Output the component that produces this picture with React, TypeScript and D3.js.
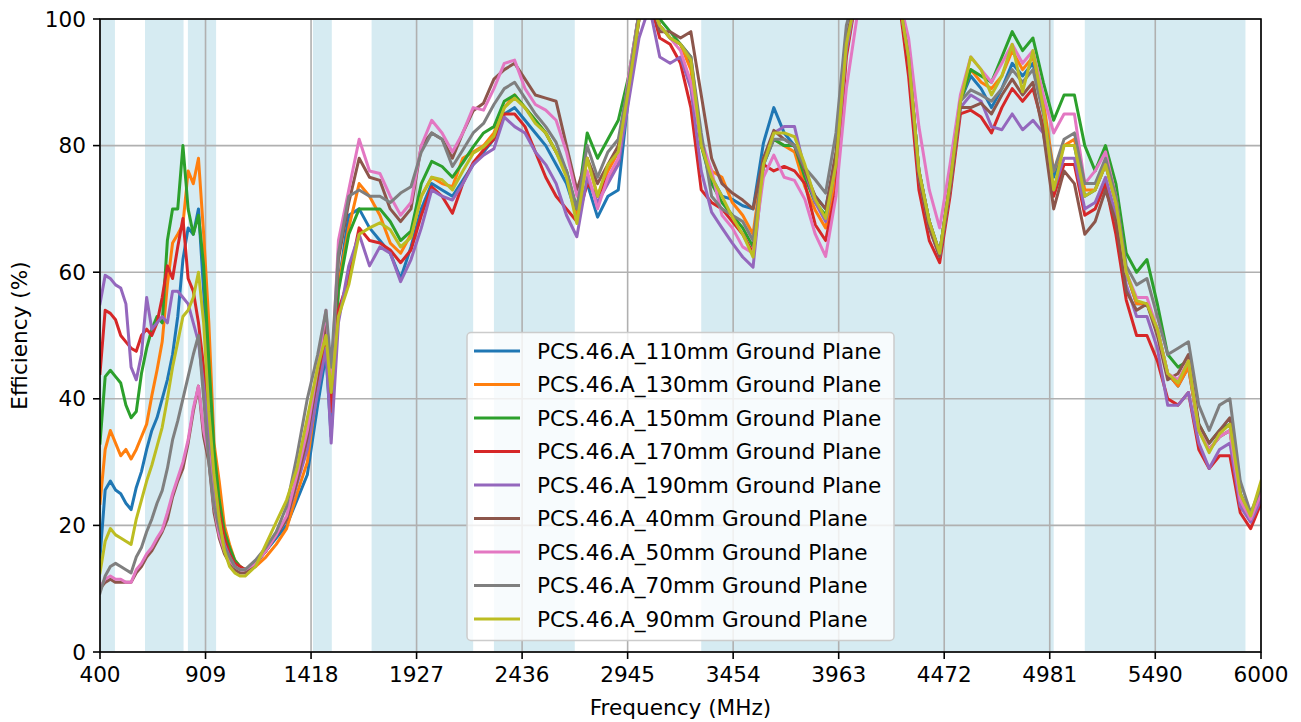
import React from 'react';
import * as d3 from 'd3';

// Frequency grid (MHz): 25 MHz steps at the low end, 50 MHz above (plus two points around the 1.5 GHz notch)
const FREQ: number[] = [
  ...d3.range(400, 1101, 25),
  ...d3.range(1150, 1451, 50),
  1490, 1515,
  ...d3.range(1550, 6001, 50),
];

const SERIES_NAMES = [
  'PCS.46.A_110mm Ground Plane',
  'PCS.46.A_130mm Ground Plane',
  'PCS.46.A_150mm Ground Plane',
  'PCS.46.A_170mm Ground Plane',
  'PCS.46.A_190mm Ground Plane',
  'PCS.46.A_40mm Ground Plane',
  'PCS.46.A_50mm Ground Plane',
  'PCS.46.A_70mm Ground Plane',
  'PCS.46.A_90mm Ground Plane',
];

const COLORS = ['#1f77b4', '#ff7f0e', '#2ca02c', '#d62728', '#9467bd', '#8c564b', '#e377c2', '#7f7f7f', '#bcbd22'];

const GP_110 = [
  15, 25.6, 27, 25.6, 25, 23.5, 22.5, 26, 28.5, 32, 35, 37, 40, 43, 47, 53, 62, 67, 66, 70, 57, 40, 29, 24, 19, 16, 14, 13.5, 13,
  14, 16, 18, 20, 24, 28, 39, 47, 34,
  58, 69, 70, 67, 65, 63, 59, 64, 70, 74,
  73, 72, 74.5, 77, 79, 81, 85, 86, 84, 82,
  80, 77, 74, 69, 74, 68.7, 72, 73, 88, 100,
  103, 99, 97, 96, 93, 80, 75, 72, 71.5, 70.5,
  70, 80.4, 86, 82, 80, 75, 72, 70, 78, 96,
  104, 108, 110, 108, 104, 94, 76, 68, 63, 74,
  87, 91, 89, 86, 89, 93, 91, 93, 86, 75,
  80, 80, 72, 73, 77, 71, 60, 55, 55, 51,
  44, 42, 45, 35, 32, 34, 35, 24, 21, 25,
];
const GP_130 = [
  23.5, 32, 35, 33, 31, 32, 30.5, 32, 34, 36, 40.5, 44.5, 49, 58, 64.6, 66, 67.5, 76, 74, 78, 66, 52, 33, 27, 20, 17, 14.5, 13.5, 13,
  13.5, 15, 17, 19.5, 25, 30, 42, 49, 38,
  58, 67, 74, 72, 69, 64.6, 63, 66, 72, 75,
  74, 73.5, 78, 79, 80, 82, 86, 88, 86, 84,
  82, 79, 76, 69, 78, 72, 76, 79, 90, 101,
  103, 99, 97, 96, 92, 80, 76, 75, 71, 69,
  66, 78, 81, 80, 79, 73.5, 69.8, 67, 75, 95,
  104, 108, 110, 108, 104, 94, 76, 68, 63, 74,
  87, 92, 90, 89, 91, 95, 92, 94, 87, 76,
  80, 81, 73, 73, 77, 71, 60, 55, 55, 51,
  44, 42, 45, 35, 32, 34, 35, 24, 21, 25,
];
const GP_150 = [
  33, 43.5, 44.5, 43.5, 42.5, 39, 37, 38, 44, 48, 51, 53, 52, 65, 70, 70, 80, 70, 66, 69, 61, 46, 32, 24, 19, 16.5, 14.5, 13.5, 13,
  14, 16, 18.5, 21, 27, 34, 43, 50, 40,
  57, 66, 70, 70, 70, 68, 65, 66.5, 74, 77.5,
  76.7, 75, 77.3, 79.8, 82, 83, 87, 88, 86, 84,
  82, 79, 76, 70, 82, 78, 81, 84, 91, 101,
  104, 100, 98, 96, 94, 80, 74, 71, 69, 67,
  64, 77, 81, 80, 80, 75, 71, 69, 77, 96,
  104, 108, 110, 108, 104, 94, 76, 68, 63, 74,
  87, 92, 91, 90, 94, 98, 95, 97, 90, 84,
  88, 88, 80, 76, 80, 74, 63, 60, 62, 55,
  47, 45, 46, 36, 33, 35, 36, 25, 21.5, 26,
];
const GP_170 = [
  44, 54, 53.5, 52.5, 50, 49, 48, 47.5, 50, 51, 50, 52, 56, 61, 59, 64, 68.5, 59, 57, 52, 45, 35, 27, 22, 18, 15.5, 14, 13.5, 13,
  14, 16, 18.5, 21, 27, 33, 42, 49, 38,
  54, 59, 67, 65, 64.6, 63.5, 61.5, 63.5, 69, 73.5,
  72, 69.3, 74, 77.3, 79.3, 81, 85, 85, 83, 79,
  75, 72, 70, 68, 74, 72, 75, 77, 89, 100,
  103, 97, 96, 93, 86, 73, 71, 70, 68, 66,
  63, 77, 76, 76.7, 76, 74, 67.5, 65, 73, 94,
  104, 108, 110, 108, 104, 91, 73, 65, 61.5, 72,
  85, 85.6, 84.5, 82, 86, 89, 87, 89, 83, 72,
  77, 77, 69, 70, 74, 66, 55.6, 50, 50, 46,
  40, 39, 41, 32, 29, 31, 31, 22, 19.5, 23.5,
];
const GP_190 = [
  55, 59.5, 59, 58, 57.5, 55, 45, 43, 47, 56, 51, 52, 53, 52, 57, 57, 56, 55, 52, 49, 42, 35, 25, 20, 17, 15, 13.5, 13, 13,
  14, 16, 18.5, 21, 26.5, 32, 41, 48, 33,
  52, 61, 66, 61, 64, 63, 58.5, 62, 67, 73,
  72, 71.4, 74, 77, 78.5, 79.5, 84.5, 83, 82, 79,
  77, 74, 69, 65.6, 75, 71, 74, 77, 87, 97,
  102, 94, 93, 94, 89, 76, 69.5, 67, 64.6, 62.4,
  60.8, 77, 82, 83, 83, 76, 71, 68, 77, 95,
  104, 108, 110, 108, 104, 94, 75, 67, 62.5, 73,
  86, 88, 87, 83, 82.5, 85, 82.5, 84, 82, 73,
  78, 78, 70, 71, 75, 69, 58, 53, 53, 48,
  39, 39, 41, 33, 29, 32, 33, 23, 20.5, 24,
];
const GP_40 = [
  10, 11, 11.5, 11, 11, 11, 11, 12.5, 13.5, 15, 16, 17.5, 19, 21, 24.5, 27, 29, 33, 38, 42, 34, 30, 22, 18, 15.5, 14, 13, 12.5, 12.5,
  14, 16, 18.5, 21, 27, 34, 44, 52, 41,
  62, 71, 78, 75, 74.5, 70, 68, 70, 80, 82,
  81, 78, 82, 85.5, 86.7, 90.5, 92, 93, 90.5, 88,
  87.5, 87, 80, 73, 78, 74, 77, 80, 90, 101,
  104, 98, 98, 97, 98, 88, 78, 74, 72.5, 71.4,
  70, 78, 82.4, 81, 80, 76, 72, 70, 79, 97,
  104, 108, 110, 108, 104, 94, 75, 67, 62.5, 73,
  86, 86, 86.7, 85, 88, 90.5, 88, 90, 82, 70,
  76, 74, 66, 68, 73, 68, 57, 54, 55, 50,
  43, 44, 47, 36, 33, 35, 37, 25, 21.5, 25,
];
const GP_50 = [
  10.3, 11.5, 12, 11.5, 11.5, 11, 11, 13, 14, 15.5, 16.5, 18, 19.3, 22, 25, 27.5, 30, 33.5, 38.5, 42, 35, 31, 23, 18.5, 16, 14.5, 13.5, 13, 13,
  14, 16, 18.5, 21.5, 28, 35, 45, 54, 42,
  65, 73, 81, 76, 75.6, 72, 69, 71, 80, 84,
  82, 79, 82, 86, 85.6, 89, 93, 93.5, 89, 86.5,
  85.6, 84, 79, 72, 76, 70, 75, 78, 91, 101,
  103, 99, 97, 95, 90, 81, 76, 69, 67, 64,
  63, 75, 78.5, 75, 74.5, 71.5, 66, 62.5, 72, 89,
  100, 108, 110, 108, 104, 97, 83, 73, 67, 77,
  88, 94, 92, 90, 93, 96, 93, 95, 88, 82,
  85, 85, 74, 76, 79, 72, 60, 56, 56, 51,
  44, 43, 46, 35, 32, 34, 35, 24, 21, 25,
];
const GP_70 = [
  9.3, 12, 13.5, 14, 13.5, 13, 12.5, 15, 16.5, 19, 21, 23.5, 25.5, 29, 33.5, 36.5, 40, 43.5, 47, 50, 40, 30, 23, 19.5, 16.5, 15, 13.5, 13, 13,
  14.5, 16.5, 19, 23, 31, 40, 47, 54, 45,
  63, 72, 73, 72, 72, 71, 72.5, 73.5, 79, 82,
  81, 76.7, 79.3, 82, 83.5, 86.5, 89, 90, 87.5, 85,
  83, 80.5, 76, 70, 80, 75, 79, 81, 90, 101,
  104, 99, 97, 96, 94, 82, 72, 70, 69, 68,
  65, 77, 81, 81, 80, 76.5, 74.6, 72.5, 82, 99,
  105, 108, 110, 108, 104, 94, 76, 68, 63, 74,
  87, 88.8, 88, 87, 89, 92, 90, 92, 85, 76,
  81, 82, 74, 74, 78, 72, 61, 58, 59, 53,
  47, 48, 49, 39, 35, 39, 40, 27, 22, 26,
];
const GP_90 = [
  12.5, 17.5, 19.5, 18.5, 18, 17.5, 17, 21, 24, 27, 29.5, 32.5, 35.5, 40, 45, 49, 53, 54, 56, 60, 52, 38, 28, 21, 16, 13.5, 12.5, 12, 12,
  13.5, 17, 20.5, 24, 29, 37, 45, 50, 41,
  53, 58, 66, 67, 67.8, 66.7, 64, 65.5, 72, 75,
  74.6, 73, 76, 78.8, 79.8, 81.5, 86, 87.5, 86, 83.5,
  82, 79, 75, 67.7, 78, 72, 77, 79, 89, 100,
  103, 99, 97, 96, 93.5, 80, 75, 72, 68.7, 66,
  62.4, 77, 82, 82, 81.4, 77, 71.5, 68.5, 77, 96,
  104, 108, 110, 108, 104, 94, 76, 68, 63, 74,
  87, 94, 92, 88, 91, 96, 88.5, 95, 86, 73,
  80, 80, 72, 73, 77, 71, 60, 55.5, 55, 51,
  44, 42.5, 46, 35, 31.5, 34.5, 36, 25, 21.5, 27,
];

const SERIES_VALUES = [GP_110, GP_130, GP_150, GP_170, GP_190, GP_40, GP_50, GP_70, GP_90];

const X_TICKS = [400, 909, 1418, 1927, 2436, 2945, 3454, 3963, 4472, 4981, 5490, 6000];
const Y_TICKS = [0, 20, 40, 60, 80, 100];

const BAND_START = [400, 617, 824, 1427, 1710, 2300, 3300, 5150];
const BAND_END = [472, 803, 960, 1518, 2200, 2690, 5000, 5925];

const FONT = "'DejaVu Sans', sans-serif";
const FS = 21.6;

export default function App() {
  const W = 1301;
  const H = 722;
  const L = 100, R = 1261, T = 19, B = 652;
  const x = d3.scaleLinear().domain([400, 6000]).range([L, R]);
  const y = d3.scaleLinear().domain([0, 100]).range([B, T]);

  const makePath = (vals: number[]) => {
    const n = Math.min(vals.length, FREQ.length);
    const pts: [number, number][] = [];
    for (let i = 0; i < n; i++) pts.push([FREQ[i], vals[i]]);
    return d3.line<[number, number]>().x(d => x(d[0])).y(d => y(d[1]))(pts) || '';
  };

  const legendX = 467, legendY = 332.5, legendW = 427, legendH = 308;
  const rowY0 = 351, rowStep = 33.5;

  return (
    <svg width={W} height={H} style={{ position: 'absolute', left: 0, top: 0, background: '#fff' }} fontFamily={FONT}>
      <defs>
        <clipPath id="plotclip">
          <rect x={L} y={T} width={R - L} height={B - T} />
        </clipPath>
      </defs>
      <rect x={0} y={0} width={W} height={H} fill="#fff" />
      {/* bands */}
      {BAND_START.map((s, i) => (
        <rect key={'b' + i} x={x(s)} y={T} width={x(BAND_END[i]) - x(s)} height={B - T} fill="rgb(214,235,242)" />
      ))}
      {/* grid */}
      {X_TICKS.map(t => (
        <line key={'gx' + t} x1={x(t)} x2={x(t)} y1={T} y2={B} stroke="#b0b0b0" strokeWidth={1.6} />
      ))}
      {Y_TICKS.map(t => (
        <line key={'gy' + t} x1={L} x2={R} y1={y(t)} y2={y(t)} stroke="#b0b0b0" strokeWidth={1.6} />
      ))}
      {/* series */}
      <g clipPath="url(#plotclip)">
        {SERIES_VALUES.map((vals, i) => (
          <path key={'s' + i} d={makePath(vals)} fill="none" stroke={COLORS[i]} strokeWidth={3} strokeLinejoin="round" strokeLinecap="square" />
        ))}
      </g>
      {/* spines */}
      <rect x={L} y={T} width={R - L} height={B - T} fill="none" stroke="#000" strokeWidth={1.6} />
      {/* x ticks */}
      {X_TICKS.map(t => (
        <g key={'xt' + t}>
          <line x1={x(t)} x2={x(t)} y1={B} y2={B + 7} stroke="#000" strokeWidth={1.6} />
          <text x={x(t)} y={B + 14} textAnchor="middle" dominantBaseline="hanging" fontSize={FS} fill="#000">{t}</text>
        </g>
      ))}
      {/* y ticks */}
      {Y_TICKS.map(t => (
        <g key={'yt' + t}>
          <line x1={L - 7} x2={L} y1={y(t)} y2={y(t)} stroke="#000" strokeWidth={1.6} />
          <text x={L - 14} y={y(t)} textAnchor="end" dominantBaseline="central" fontSize={FS} fill="#000">{t}</text>
        </g>
      ))}
      {/* axis labels */}
      <text x={(L + R) / 2} y={715} textAnchor="middle" fontSize={FS} fill="#000">Frequency (MHz)</text>
      <text transform={`translate(27,${(T + B) / 2}) rotate(-90)`} textAnchor="middle" fontSize={FS} fill="#000">Efficiency (%)</text>
      {/* legend */}
      <rect x={legendX} y={legendY} width={legendW} height={legendH} rx={4} fill="#fff" fillOpacity={0.8} stroke="#cccccc" strokeWidth={1.5} />
      {SERIES_NAMES.map((name, i) => {
        const ry = rowY0 + i * rowStep;
        return (
          <g key={'lg' + i}>
            <line x1={474} x2={520} y1={ry} y2={ry} stroke={COLORS[i]} strokeWidth={3} />
            <text x={537} y={ry} dominantBaseline="central" fontSize={FS} fill="#000">{name}</text>
          </g>
        );
      })}
    </svg>
  );
}
